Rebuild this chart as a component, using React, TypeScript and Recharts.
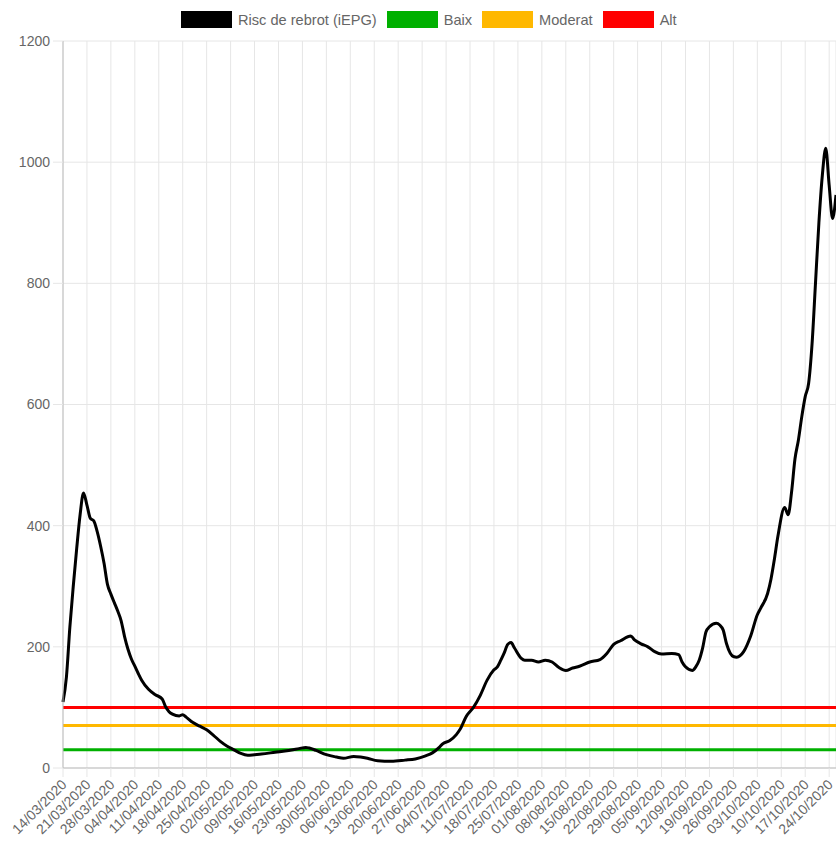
import React from 'react';
import { LineChart, Line, XAxis, YAxis, CartesianGrid } from 'recharts';

// weekly labels shown on the x axis (one every 7 days from 14/03/2020)
const weekLabels = [
  '14/03/2020', '21/03/2020', '28/03/2020', '04/04/2020', '11/04/2020', '18/04/2020',
  '25/04/2020', '02/05/2020', '09/05/2020', '16/05/2020', '23/05/2020', '30/05/2020',
  '06/06/2020', '13/06/2020', '20/06/2020', '27/06/2020', '04/07/2020', '11/07/2020',
  '18/07/2020', '25/07/2020', '01/08/2020', '08/08/2020', '15/08/2020', '22/08/2020',
  '29/08/2020', '05/09/2020', '12/09/2020', '19/09/2020', '26/09/2020', '03/10/2020',
  '10/10/2020', '17/10/2020', '24/10/2020',
];

// [days since 14/03/2020, iEPG]
const riskSeries: [number, number][] = [
  [0, 109], [1, 150], [2, 232], [3, 300], [4, 362], [5, 418], [6, 454], [7, 434], [8, 412],
  [9, 408], [10, 390], [11, 366], [12, 338], [13, 303], [14, 287], [15, 273], [16, 259],
  [17, 243], [18, 217], [19, 196], [20, 180], [21, 168], [22, 156], [23, 145], [25, 130],
  [27, 121], [29, 114], [30, 101], [31, 93], [32, 89], [34, 86], [35, 88], [36, 84],
  [38, 75], [40, 69], [42, 63], [44, 54], [46, 44], [48, 36], [50, 30], [52, 24], [54, 21],
  [56, 22], [58, 23], [62, 26], [66, 29], [69, 32], [71, 34], [72, 33], [74, 29], [77, 22],
  [80, 18], [82, 16], [85, 19], [87, 18], [89, 16], [92, 12], [96, 11], [100, 13], [103, 15],
  [106, 20], [108, 25], [110, 34], [111, 40], [113, 45], [115, 55], [116, 63], [118, 86],
  [120, 100], [122, 120], [124, 145], [126, 162], [127, 167], [128, 178], [129, 190],
  [130, 204], [131, 207], [132, 198], [134, 181], [135, 178], [137, 178], [139, 175],
  [141, 178], [143, 175], [145, 166], [147, 161], [149, 165], [151, 168], [154, 175],
  [157, 179], [159, 189], [161, 204], [163, 210], [166, 218], [167, 212], [169, 205],
  [171, 200], [173, 192], [175, 188], [178, 189], [180, 187], [181, 175], [182, 167],
  [184, 161], [185, 167], [186, 178], [187, 198], [188, 225], [189, 233], [191, 239],
  [192, 236], [193, 228], [194, 205], [196, 184], [197, 183], [199, 192], [201, 217],
  [203, 253], [204, 264], [206, 288], [207, 312], [208, 345], [209, 382], [211, 430],
  [212, 418], [213, 455], [214, 510], [215, 541], [216, 580], [217, 613], [218, 635],
  [219, 700], [220, 800], [221, 900], [222, 978], [223, 1023], [224, 962], [225, 907],
  [226, 946],
];

// risk thresholds
const BAIX = 30;
const MODERAT = 70;
const ALT = 100;

const yTicks = [0, 200, 400, 600, 800, 1000, 1200];

const legendItems = [
  { name: 'Risc de rebrot (iEPG)', color: '#000000' },
  { name: 'Baix', color: '#00b000' },
  { name: 'Moderat', color: '#ffb800' },
  { name: 'Alt', color: '#ff0000' },
];

const data = riskSeries.map(([day, risk]) => ({
  day,
  risk,
  baix: BAIX,
  moderat: MODERAT,
  alt: ALT,
}));

const lastDay = riskSeries[riskSeries.length - 1][0];
const xTicks = weekLabels.map((_, i) => i * 7);

const DateTick = ({ x, y, payload }: any) => (
  <text
    x={0}
    y={0}
    transform={`translate(${x + 1},${y + 3}) rotate(-45)`}
    textAnchor="end"
    dominantBaseline="central"
    fill="#666"
    fontSize={14}
  >
    {weekLabels[Math.round(payload.value / 7)]}
  </text>
);

export default function App() {
  return (
    <div
      style={{
        position: 'absolute',
        left: 0,
        top: 0,
        width: 836,
        height: 843,
        background: '#fff',
        fontFamily: '"Liberation Sans", Arial, sans-serif',
      }}
    >
      {/* legend drawn as plain html so the plot area stays where it is */}
      <div
        style={{
          position: 'absolute',
          left: 181,
          top: 11,
          display: 'flex',
          alignItems: 'center',
          fontSize: 14.6,
          color: '#666',
        }}
      >
        {legendItems.map((item) => (
          <div key={item.name} style={{ display: 'flex', alignItems: 'center', marginRight: 10 }}>
            <span
              style={{ width: 51, height: 17, background: item.color, display: 'inline-block', marginRight: 6 }}
            />
            <span>{item.name}</span>
          </div>
        ))}
      </div>
      <LineChart width={836} height={843} data={data} margin={{ top: 41, right: 0, bottom: 0, left: 0 }}>
        <CartesianGrid stroke="#e6e6e6" />
        <XAxis
          dataKey="day"
          type="number"
          domain={[0, lastDay]}
          ticks={xTicks}
          interval={0}
          height={75}
          tickSize={9}
          tickLine={{ stroke: '#e6e6e6' }}
          axisLine={{ stroke: '#bdbdbd' }}
          tick={<DateTick />}
        />
        <YAxis
          domain={[0, 1200]}
          ticks={yTicks}
          width={63}
          tickSize={10}
          tickMargin={3}
          tickLine={{ stroke: '#e6e6e6' }}
          axisLine={{ stroke: '#bdbdbd' }}
          tick={{ fill: '#666', fontSize: 14 }}
        />
        <Line dataKey="baix" name="Baix" stroke="#00b000" strokeWidth={3} dot={false} isAnimationActive={false} />
        <Line dataKey="moderat" name="Moderat" stroke="#ffb800" strokeWidth={3} dot={false} isAnimationActive={false} />
        <Line dataKey="alt" name="Alt" stroke="#ff0000" strokeWidth={3} dot={false} isAnimationActive={false} />
        <Line
          type="monotone"
          dataKey="risk"
          name="Risc de rebrot (iEPG)"
          stroke="#000000"
          strokeWidth={3}
          dot={false}
          isAnimationActive={false}
        />
      </LineChart>
    </div>
  );
}
